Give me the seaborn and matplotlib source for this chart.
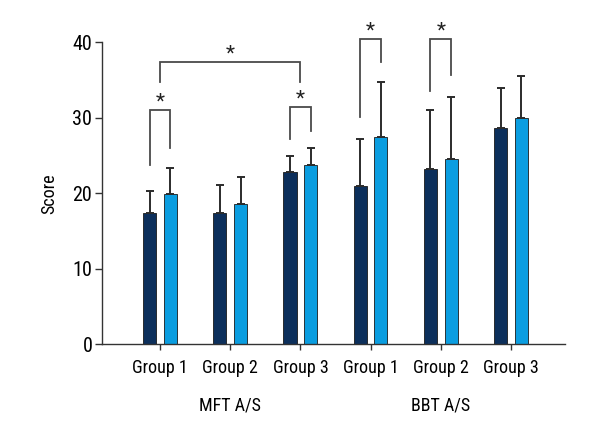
import matplotlib
matplotlib.use("Agg")
import matplotlib.pyplot as plt
import seaborn as sns
import pandas as pd
import numpy as np

# ---- data ----
tests = ["MFT A/S", "MFT A/S", "MFT A/S", "BBT A/S", "BBT A/S", "BBT A/S"]
groups = ["Group 1", "Group 2", "Group 3", "Group 1", "Group 2", "Group 3"]
series = ["A", "S"]
mean_a = [17.4, 17.4, 22.8, 21.0, 23.2, 28.7]
mean_s = [19.9, 18.6, 23.7, 27.5, 24.6, 30.0]
sd_a = [2.9, 3.7, 2.2, 6.2, 7.9, 5.3]
sd_s = [3.4, 3.6, 2.3, 7.3, 8.2, 5.6]
y_ticks = [0, 10, 20, 30, 40]

# significance brackets: (left x, right x, left leg bottom, right leg bottom, top)
brackets = [
    ((0, "A"), (0, "S"), 23.7, 26.0, 31.0),
    ((0, None), (2, None), 34.8, 34.8, 37.4),
    ((2, "A"), (2, "S"), 27.2, 28.2, 31.4),
    ((3, "A"), (3, "S"), 30.1, 37.4, 40.5),
    ((4, "A"), (4, "S"), 33.5, 35.7, 40.5),
]

slots = [f"{t}|{g}" for t, g in zip(tests, groups)]
df = pd.DataFrame({
    "slot": slots * 2,
    "series": [series[0]] * 6 + [series[1]] * 6,
    "value": mean_a + mean_s,
})

plt.rcParams["font.family"] = ["Roboto Condensed", "Liberation Sans Narrow",
                               "DejaVu Sans Condensed", "Roboto", "DejaVu Sans"]
fig = plt.figure(figsize=(6.0, 4.4), dpi=100)
ax = fig.add_axes([0.17, 0.218, 0.7717, 0.6856])

colors = {"A": "#0c2f5b", "S": "#0a9de0"}
sns.barplot(data=df, x="slot", y="value", hue="series", order=slots,
            hue_order=series, palette=colors, width=0.59, gap=0.37,
            saturation=1, errorbar=None, edgecolor="#1a1a1a", linewidth=0.6,
            legend=False, ax=ax)

# error bars (upward only)
centers = {}
for cont, s, means, sds in zip(ax.containers, series, [mean_a, mean_s], [sd_a, sd_s]):
    xs = [p.get_x() + p.get_width() / 2 for p in cont.patches]
    for i, x in enumerate(xs):
        centers[(i, s)] = x
    ax.errorbar(xs, means, yerr=[np.zeros(len(sds)), sds], fmt="none",
                ecolor="#2b2b2b", elinewidth=1.4, capsize=3, capthick=1.4,
                zorder=1)

# brackets
for (l, r, lb, rb, top) in brackets:
    xl = centers[l] if l[1] else l[0]
    xr = centers[r] if r[1] else r[0]
    ax.plot([xl, xl, xr, xr], [lb, top, top, rb], color="#4a4a4a",
            lw=1.3, clip_on=False, solid_joinstyle="miter")
    ax.text((xl + xr) / 2, top - 0.2, "*", ha="center", va="bottom",
            fontsize=15, color="#222222", clip_on=False)

ax.set_ylim(0, 40)
ax.set_xlim(-0.826, 5.77)
ax.set_yticks(y_ticks)
ax.set_xticks(range(6))
ax.set_xticklabels(groups)
ax.tick_params(axis="y", labelsize=14.5, length=5, width=1, color="#333333",
               pad=2)
ax.tick_params(axis="x", labelsize=13, length=4, width=1, color="#333333",
               pad=7)
ax.set_ylabel("Score", fontsize=13, labelpad=10)
ax.set_xlabel("")
for side in ["top", "right"]:
    ax.spines[side].set_visible(False)
for side in ["left", "bottom"]:
    ax.spines[side].set_color("#333333")
    ax.spines[side].set_linewidth(1)

# test labels under group 2 of each block
for idx in [1, 4]:
    ax.text(idx, -0.205, tests[idx], transform=ax.get_xaxis_transform(),
            ha="center", va="center", fontsize=13)

fig.savefig("out.png", dpi=100)
